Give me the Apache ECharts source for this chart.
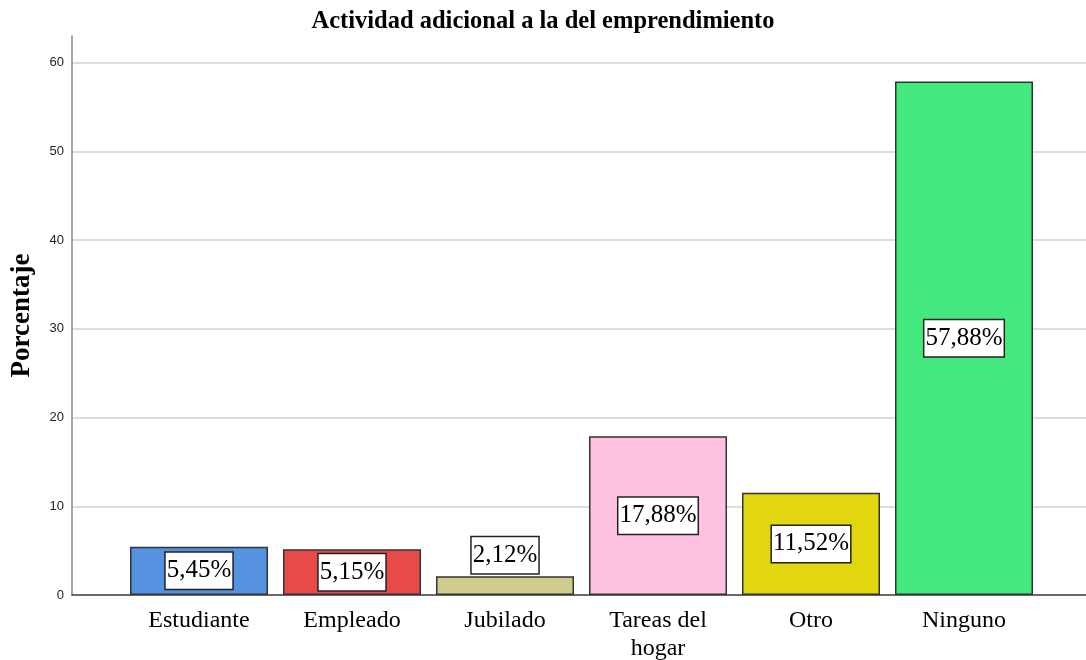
<!DOCTYPE html>
<html>
<head>
<meta charset="utf-8">
<script src="https://cdn.jsdelivr.net/npm/echarts@6/dist/echarts.min.js"></script>
<style>
  html, body { margin: 0; padding: 0; background: #fff; }
  #chart { width: 1086px; height: 660px; }
</style>
</head>
<body>
<div id="chart"></div>
<script>
const categories = ['Estudiante', 'Empleado', 'Jubilado', 'Tareas del\nhogar', 'Otro', 'Ninguno']
const percentages = [5.45, 5.15, 2.12, 17.88, 11.52, 57.88]
const yTicks = [0, 10, 20, 30, 40, 50, 60]

const colors = ['#5592E0', '#E84A4A', '#D1CB8E', '#FFC2E1', '#E2D611', '#43E97F']
const serif = '"Liberation Serif", "Times New Roman", serif'

const myChart = echarts.init(document.getElementById('chart'))

const labelBox = {
    show: true,
    position: 'inside',
    color: '#000',
    fontFamily: serif,
    fontSize: 25,
    backgroundColor: '#fff',
    borderColor: '#222',
    borderWidth: 1.5,
    padding: [6, 1, 5, 1],
    formatter: p => p.value.toFixed(2).replace('.', ',') + '%'
}

const option = {
    animation: false,
    title: {
        text: 'Actividad adicional a la del emprendimiento',
        left: 'center',
        top: 4,
        textStyle: { fontFamily: serif, fontSize: 24.5, fontWeight: 'bold', color: '#000' }
    },
    grid: [
        // background frame with gridlines, wider than the bars
        { left: 72, right: 0, top: 36, bottom: 65, containLabel: false, outerBoundsMode: 'none' },
        { left: 122.5, right: 45.5, top: 36, bottom: 65, containLabel: false, outerBoundsMode: 'none' }
    ],
    xAxis: [
        {
            gridIndex: 0,
            type: 'value',
            min: 0,
            max: 1,
            axisLine: { show: true, lineStyle: { color: '#444', width: 1.5 } },
            axisTick: { show: false },
            axisLabel: { show: false },
            splitLine: { show: false }
        },
        {
            gridIndex: 1,
            type: 'category',
            data: categories,
            axisLine: { show: false },
            axisTick: { show: false },
            axisLabel: {
                color: '#000',
                fontFamily: serif,
                fontSize: 24,
                margin: 12,
                lineHeight: 28
            }
        }
    ],
    yAxis: [
        {
            gridIndex: 0,
            type: 'value',
            min: 0,
            max: 63,
            interval: 10,
            name: 'Porcentaje',
            nameLocation: 'middle',
            nameGap: 36,
            nameRotate: 90,
            nameTextStyle: { fontFamily: serif, fontSize: 27, fontWeight: 'bold', color: '#000' },
            axisLine: { show: true, lineStyle: { color: '#888', width: 1.5 } },
            axisTick: { show: false },
            axisLabel: {
                color: '#222',
                fontFamily: '"Liberation Sans", Arial, sans-serif',
                fontSize: 13,
                margin: 8,
                showMaxLabel: false,
                formatter: v => (yTicks.indexOf(v) >= 0 ? String(v) : '')
            },
            splitLine: { show: true, showMaxLine: false, lineStyle: { color: '#d2d2d2', width: 1.5 } }
        },
        {
            gridIndex: 1,
            type: 'value',
            min: 0,
            max: 63,
            show: false,
            splitLine: { show: false }
        }
    ],
    series: [
        {
            type: 'bar',
            xAxisIndex: 1,
            yAxisIndex: 1,
            barWidth: 138,
            label: labelBox,
            itemStyle: { borderColor: '#333', borderWidth: 1.5 },
            data: percentages.map((v, idx) => {
                const item = { value: v, itemStyle: { color: colors[idx] } }
                if (v < 4) {
                    item.label = { position: 'top', distance: 3 }
                }
                return item
            })
        }
    ]
}

myChart.setOption(option)
</script>
</body>
</html>
